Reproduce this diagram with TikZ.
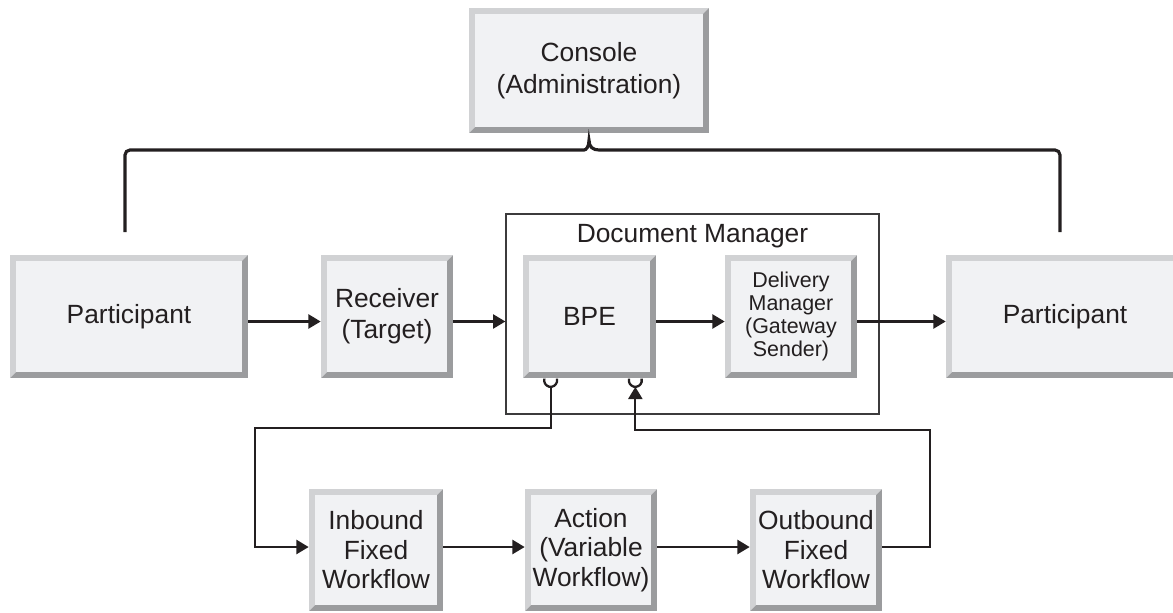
\documentclass[tikz,border=0pt]{standalone}
\usepackage{fontspec}
\setmainfont{Liberation Sans}
\usetikzlibrary{arrows.meta, calc}
\definecolor{bevlight}{HTML}{D1D2D4}
\definecolor{bevdark}{HTML}{9B9C9E}
\definecolor{bevface}{HTML}{F1F2F4}
\definecolor{ink}{HTML}{231F20}
\definecolor{framegray}{HTML}{3C3B3C}
\tikzstyle{bevel} = [
    rectangle,
    inner sep = 0pt,
    align = center,
    text = ink,
    font = \fontsize{15}{17.5}\selectfont,
    fill = bevdark,
    path picture = {
        \fill[bevlight] (path picture bounding box.north west) -- (path picture bounding box.north east)
            -- ([shift={(-0.12cm,-0.12cm)}]path picture bounding box.north east)
            -- ([shift={(0.12cm,-0.12cm)}]path picture bounding box.north west)
            -- ([shift={(0.12cm,0.12cm)}]path picture bounding box.south west)
            -- (path picture bounding box.south west) -- cycle;
        \fill[bevface] ([shift={(0.12cm,-0.12cm)}]path picture bounding box.north west)
            rectangle ([shift={(-0.12cm,0.12cm)}]path picture bounding box.south east);
    },
]
\tikzstyle{bigbox} = [bevel, minimum width = 4.76cm, minimum height = 2.46cm]
\tikzstyle{smallbox} = [bevel, minimum width = 2.64cm, minimum height = 2.46cm]
\tikzstyle{flowline} = [draw = ink, line width = 1.3pt, -{Triangle[length = 7pt, width = 8pt]}]

\begin{document}
\begin{tikzpicture} [x = 0.02cm, y = -0.02cm]
    \useasboundingbox (0,0) rectangle (1173,612);
    \clip (0,0) rectangle (1173,612);

    %% document manager frame
    \node (docmgr) [draw = framegray, line width = 0.75pt, minimum width = 7.46cm, minimum height = 4cm] at (692.5,314) {};
    \node (dmlabel) [anchor = base, text = ink, font = \fontsize{15}{17.5}\selectfont] at (692.5,242) {Document Manager};

    \node (console) [bigbox, minimum width = 4.8cm, minimum height = 2.5cm, font = \fontsize{15}{18.5}\selectfont] at (589,70.5) {Console \\ (Administration)};
    \node (partL) [bigbox] at (129,316.5) {Participant};
    \node (receiver) [smallbox] at (387,316.5) {Receiver \\ (Target)};
    \node (bpe) [smallbox, minimum width = 2.66cm] at (589.5,316.5) {BPE};
    \node (deliv) [smallbox, font = \fontsize{12.2}{13.2}\selectfont] at (791,316.5) {Delivery \\ Manager \\ (Gateway \\ Sender)};
    \node (partR) [bigbox] at (1065,316.5) {Participant};

    \node (inbound) [smallbox, minimum width = 2.68cm, minimum height = 2.44cm, font = \fontsize{15}{16.8}\selectfont] at (376,550) {Inbound \\ Fixed \\ Workflow};
    \node (action) [smallbox, minimum height = 2.44cm, font = \fontsize{15}{16.8}\selectfont] at (591,550) {Action \\ (Variable \\ Workflow)};
    \node (outbound) [smallbox, minimum height = 2.44cm, font = \fontsize{15}{16.8}\selectfont] at (816,550) {Outbound \\ Fixed \\ Workflow};

    %% brace below the console
    \coordinate (brTip) at ([yshift = -0.14cm]console.south);
    \coordinate (brL) at (125,232);
    \coordinate (brR) at (1060,232);
    \draw[ink, line width = 1.8pt, rounded corners = 0.1cm] (brL) -- (125,150) -- (579,150)
        [sharp corners] .. controls (586,150) and (brTip |- 0,147) .. (brTip)
        .. controls (brTip |- 0,147) and (593,150) .. (599,150)
        [rounded corners = 0.1cm] -- (1060,150) -- (brR);

    %% main row
    \draw[flowline] ([yshift = -0.1cm]partL.east) -- ([yshift = -0.1cm]receiver.west);
    \draw[flowline] ([yshift = -0.1cm]receiver.east) -- ([yshift = -0.1cm]receiver.east -| docmgr.west);
    \draw[flowline] ([yshift = -0.1cm]bpe.east) -- ([yshift = -0.1cm]deliv.west);
    \draw[flowline] ([yshift = -0.1cm]deliv.east) -- ([yshift = -0.1cm]partR.west);

    %% workflow loop
    \coordinate (tapIn) at ([xshift = 0.56cm, yshift = -0.04cm]bpe.south west);
    \coordinate (tapOut) at ([xshift = -0.42cm, yshift = -0.04cm]bpe.south east);
    \draw[ink, line width = 1.3pt] (tapIn) ++(165:0.13cm) arc[start angle = 165, end angle = 375, radius = 0.13cm];
    \draw[ink, line width = 1.3pt] (tapOut) ++(165:0.13cm) arc[start angle = 165, end angle = 375, radius = 0.13cm];
    \coordinate (inBend) at (255,428);
    \coordinate (outBend) at (930,430);
    \draw[flowline] ([yshift = -0.13cm]tapIn) |- (inBend) |- ([yshift = 0.06cm]inbound.west);
    \draw[flowline] ([yshift = 0.06cm]inbound.east) -- ([yshift = 0.06cm]action.west);
    \draw[flowline] ([yshift = 0.06cm]action.east) -- ([yshift = 0.06cm]outbound.west);
    \draw[flowline] ([yshift = 0.06cm]outbound.east) -| (outBend) -| ([yshift = -0.13cm]tapOut);
\end{tikzpicture}
\end{document}
